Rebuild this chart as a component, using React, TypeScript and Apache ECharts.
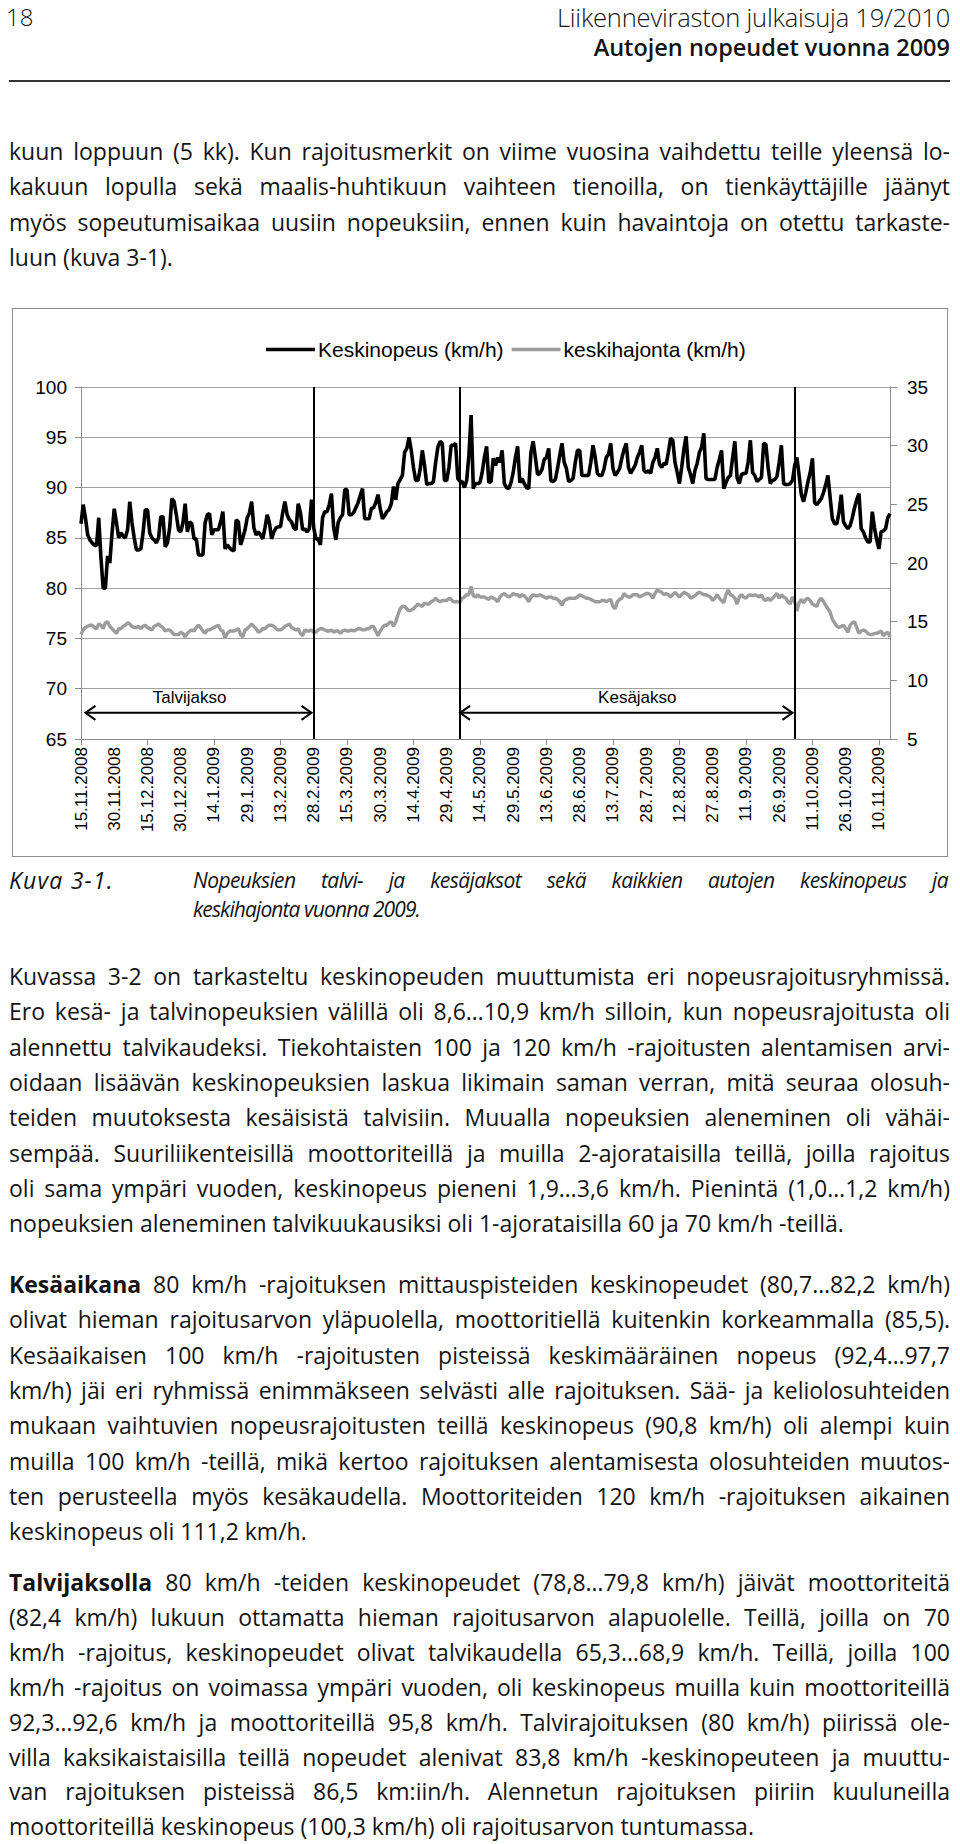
import React, { useEffect, useRef } from "react";
import * as echarts from "echarts";

// ---------- DATA (daily values) ----------
const startYear = 2008;
const startMonth = 11;
const startDay = 15;

const speedNov08 = [86.4, 88.3, 87.0, 85.3, 84.8, 84.5, 84.3, 84.2, 87.0, 83.0, 80.0, 80.0, 83.2, 82.5, 85.5, 87.9];
const speedDec08 = [86.5, 85.0, 85.5, 85.2, 85.0, 85.8, 88.6, 86.5, 85.0, 83.8, 83.8, 83.9, 85.5, 87.8, 87.8, 85.5, 85.0, 84.8, 84.5, 85.0, 87.1, 87.1, 84.1, 84.5, 86.0, 88.9, 88.6, 87.3, 85.8, 85.6, 86.5];
const speedJan09 = [88.4, 85.6, 86.6, 86.4, 84.9, 84.9, 83.3, 83.3, 83.3, 86.5, 87.3, 87.4, 85.3, 85.8, 85.8, 85.8, 86.6, 87.6, 83.9, 84.3, 84.0, 83.8, 83.7, 86.8, 86.6, 84.3, 85.0, 85.8, 87.0, 87.5, 88.6];
const speedFeb09 = [86.0, 85.3, 85.6, 85.3, 84.9, 86.0, 87.3, 86.5, 84.9, 85.6, 86.0, 86.1, 86.1, 87.5, 88.6, 87.3, 86.8, 86.6, 86.0, 85.8, 88.4, 87.5, 85.8, 85.9, 85.6, 85.9, 88.8, 86.0];
const speedMar09 = [84.9, 84.9, 84.3, 87.0, 87.6, 87.6, 88.3, 89.4, 86.0, 84.8, 86.5, 87.0, 87.3, 89.8, 89.8, 87.3, 87.3, 87.5, 88.0, 88.5, 89.2, 89.9, 86.9, 86.9, 86.9, 87.9, 88.0, 88.5, 89.3, 87.9, 86.9];
const speedApr09 = [87.2, 87.6, 87.8, 88.4, 90.1, 88.8, 90.4, 90.8, 91.2, 93.5, 93.9, 95.0, 93.7, 92.0, 90.7, 90.7, 91.8, 93.7, 92.2, 90.3, 90.4, 90.4, 90.6, 92.5, 94.0, 94.6, 94.4, 90.7, 90.7, 92.0];
const speedMay09 = [94.2, 94.2, 94.4, 90.9, 90.6, 90.6, 90.0, 90.7, 93.2, 97.2, 89.9, 90.4, 90.4, 90.5, 91.5, 93.0, 94.1, 90.5, 90.6, 92.9, 92.2, 93.0, 92.5, 93.7, 90.4, 90.0, 89.9, 90.5, 91.5, 93.0, 94.1];
const speedJun09 = [90.5, 90.9, 90.4, 90.0, 89.9, 93.5, 94.6, 93.0, 91.3, 91.4, 91.8, 92.8, 93.0, 93.9, 90.7, 90.6, 90.8, 91.9, 93.2, 94.4, 92.5, 91.9, 90.6, 90.7, 90.9, 92.5, 93.7, 93.7, 91.2, 91.2];
const speedJul09 = [91.2, 91.2, 92.5, 94.2, 93.0, 91.4, 91.2, 91.2, 91.9, 93.0, 93.3, 94.4, 91.9, 91.2, 91.5, 91.9, 92.9, 93.8, 94.4, 92.0, 91.4, 91.8, 92.2, 93.0, 93.5, 94.2, 91.7, 91.5, 91.7, 91.4, 92.5];
const speedAug09 = [93.0, 93.9, 92.3, 92.0, 92.4, 92.3, 93.5, 94.9, 94.7, 92.5, 91.5, 90.4, 92.0, 93.8, 95.1, 92.0, 91.3, 90.4, 91.7, 92.4, 93.5, 94.0, 95.4, 90.9, 90.8, 90.8, 90.8, 90.8, 92.0, 92.8, 93.7];
const speedSep09 = [89.9, 90.5, 91.0, 91.2, 93.0, 94.6, 91.0, 90.4, 91.3, 91.4, 91.4, 92.5, 94.7, 91.5, 91.2, 90.6, 90.8, 91.0, 94.4, 94.3, 92.0, 90.4, 90.7, 90.8, 91.1, 92.5, 94.2, 90.4, 90.3, 90.3];
const speedOct09 = [90.4, 90.7, 92.2, 93.0, 91.2, 89.3, 88.6, 89.5, 90.6, 91.5, 92.9, 88.5, 88.3, 88.6, 88.9, 89.5, 90.3, 91.2, 89.0, 86.9, 86.4, 86.4, 87.5, 89.3, 86.6, 86.2, 85.9, 86.2, 87.0, 88.0, 88.8];
const speedNov09 = [89.4, 85.9, 85.6, 85.0, 84.6, 84.6, 87.6, 86.0, 84.8, 83.9, 85.6, 85.7, 85.9, 87.0, 87.4];

const sdNov08 = [13.9, 14.3, 14.5, 14.6, 14.7, 14.7, 14.5, 14.4, 14.8, 14.7, 14.4, 14.9, 15.0, 14.6, 14.4, 14.2];
const sdDec08 = [14.0, 14.4, 14.4, 14.6, 14.7, 14.9, 14.8, 14.6, 14.5, 14.5, 14.6, 14.4, 14.6, 14.7, 14.5, 14.4, 14.3, 14.6, 14.7, 14.8, 14.6, 14.5, 14.2, 14.3, 14.3, 14.1, 13.9, 13.9, 13.9, 14.1, 14.0];
const sdJan09 = [13.7, 14.0, 14.2, 14.3, 14.2, 14.5, 14.7, 14.5, 14.2, 14.0, 14.3, 14.3, 14.4, 14.5, 14.6, 14.7, 14.3, 14.2, 13.6, 14.0, 14.2, 14.2, 14.2, 14.3, 14.4, 13.9, 13.7, 14.3, 14.4, 14.6, 14.8];
const sdFeb09 = [14.6, 14.4, 14.1, 14.2, 14.4, 14.4, 14.6, 14.7, 14.7, 14.6, 14.4, 14.3, 14.3, 14.4, 14.6, 14.7, 14.8, 14.5, 14.4, 14.3, 14.4, 14.0, 13.8, 14.3, 14.2, 14.2, 14.3, 14.1];
const sdMar09 = [14.1, 14.3, 14.4, 14.4, 14.3, 14.2, 14.2, 14.3, 14.1, 14.2, 14.2, 14.0, 14.2, 14.3, 14.2, 14.2, 14.3, 14.2, 14.3, 14.4, 14.4, 14.3, 14.3, 14.4, 14.4, 14.6, 14.6, 14.2, 13.8, 14.2, 14.5];
const sdApr09 = [14.7, 14.7, 14.9, 15.0, 14.6, 15.0, 15.6, 16.1, 16.3, 16.3, 16.1, 15.9, 16.0, 16.1, 16.3, 16.5, 16.4, 16.3, 16.6, 16.5, 16.5, 16.7, 16.8, 17.0, 16.8, 16.7, 16.8, 16.8, 16.8, 17.0];
const sdMay09 = [16.9, 16.7, 16.7, 16.7, 16.7, 17.0, 17.1, 17.3, 17.3, 18.0, 17.2, 17.1, 17.3, 17.1, 17.1, 17.1, 17.0, 16.9, 17.1, 17.0, 16.9, 16.7, 17.1, 17.3, 17.4, 17.2, 17.1, 17.2, 17.4, 17.3, 17.3];
const sdJun09 = [17.1, 17.3, 17.2, 17.0, 16.7, 17.1, 17.3, 17.2, 17.2, 17.3, 17.2, 17.1, 17.0, 17.1, 17.1, 17.0, 17.0, 16.9, 16.7, 16.4, 16.8, 16.9, 17.0, 17.0, 17.0, 17.0, 17.1, 17.3, 17.2, 17.1];
const sdJul09 = [17.0, 17.0, 16.9, 16.8, 16.7, 16.7, 16.7, 16.8, 16.8, 16.7, 16.8, 16.9, 16.3, 16.1, 16.7, 16.9, 17.0, 17.4, 17.2, 17.1, 17.1, 17.3, 17.3, 17.3, 17.1, 17.2, 17.3, 17.4, 17.4, 17.3, 17.0];
const sdAug09 = [17.4, 17.7, 17.6, 17.5, 17.3, 17.4, 17.3, 17.1, 17.3, 17.5, 17.3, 17.1, 17.3, 17.5, 17.4, 17.3, 17.0, 17.1, 17.2, 17.4, 17.5, 17.4, 17.3, 17.3, 17.2, 17.1, 16.8, 17.0, 17.3, 17.0, 16.8];
const sdSep09 = [16.6, 17.3, 17.7, 17.3, 17.2, 17.0, 16.5, 17.1, 17.3, 17.1, 17.0, 17.2, 17.3, 17.2, 17.3, 17.2, 17.1, 17.3, 16.9, 16.8, 17.0, 16.8, 17.0, 17.2, 17.4, 17.0, 17.3, 17.1, 17.0, 16.7];
const sdOct09 = [16.5, 17.1, 16.7, 15.9, 16.6, 16.9, 16.6, 16.9, 17.0, 16.8, 16.5, 16.4, 16.3, 16.8, 17.0, 16.7, 16.4, 16.1, 15.8, 15.2, 14.9, 14.6, 14.5, 14.6, 14.7, 14.4, 14.1, 14.7, 14.9, 15.0, 14.5];
const sdNov09 = [14.0, 14.2, 14.3, 14.2, 14.0, 13.9, 13.9, 14.0, 14.0, 14.1, 14.2, 13.8, 14.0, 14.1, 13.7];

const seriesNames = ["Keskinopeus (km/h)", "keskihajonta (km/h)"];
// period dividers (day index from 15.11.2008)
const dividerDays = [105, 171, 322];
// period arrows
const periodLabels = ["Talvijakso", "Kesäjakso"];
const periodStart = [2, 171];
const periodEnd = [104, 321];
const periodLabelDay = [49, 251];
const arrowLevel = 67.6;
const labelLevel = 69.1;

const speed = [
  ...speedNov08, ...speedDec08, ...speedJan09, ...speedFeb09, ...speedMar09, ...speedApr09,
  ...speedMay09, ...speedJun09, ...speedJul09, ...speedAug09, ...speedSep09, ...speedOct09, ...speedNov09,
];
const sd = [
  ...sdNov08, ...sdDec08, ...sdJan09, ...sdFeb09, ...sdMar09, ...sdApr09,
  ...sdMay09, ...sdJun09, ...sdJul09, ...sdAug09, ...sdSep09, ...sdOct09, ...sdNov09,
];
const categories = speed.map((_, i) => {
  const d = new Date(Date.UTC(startYear, startMonth - 1, startDay + i));
  return `${d.getUTCDate()}.${d.getUTCMonth() + 1}.${d.getUTCFullYear()}`;
});

// ---------- PAGE TEXT ----------
const para1 = [
  "kuun loppuun (5 kk). Kun rajoitusmerkit on viime vuosina vaihdettu teille yleensä lo-",
  "kakuun lopulla sekä maalis-huhtikuun vaihteen tienoilla, on tienkäyttäjille jäänyt",
  "myös sopeutumisaikaa uusiin nopeuksiin, ennen kuin havaintoja on otettu tarkaste-",
  "luun (kuva 3-1).",
];
const para2 = [
  "Kuvassa 3-2 on tarkasteltu keskinopeuden muuttumista eri nopeusrajoitusryhmissä.",
  "Ero kesä- ja talvinopeuksien välillä oli 8,6…10,9 km/h silloin, kun nopeusrajoitusta oli",
  "alennettu talvikaudeksi. Tiekohtaisten 100 ja 120 km/h -rajoitusten alentamisen arvi-",
  "oidaan lisäävän keskinopeuksien laskua likimain saman verran, mitä seuraa olosuh-",
  "teiden muutoksesta kesäisistä talvisiin. Muualla nopeuksien aleneminen oli vähäi-",
  "sempää. Suuriliikenteisillä moottoriteillä ja muilla 2-ajorataisilla teillä, joilla rajoitus",
  "oli sama ympäri vuoden, keskinopeus pieneni 1,9…3,6 km/h. Pienintä (1,0…1,2 km/h)",
  "nopeuksien aleneminen talvikuukausiksi oli 1-ajorataisilla 60 ja 70 km/h -teillä.",
];
const para3 = [
  "**Kesäaikana** 80 km/h -rajoituksen mittauspisteiden keskinopeudet (80,7…82,2 km/h)",
  "olivat hieman rajoitusarvon yläpuolella, moottoritiellä kuitenkin korkeammalla (85,5).",
  "Kesäaikaisen 100 km/h -rajoitusten pisteissä keskimääräinen nopeus (92,4…97,7",
  "km/h) jäi eri ryhmissä enimmäkseen selvästi alle rajoituksen. Sää- ja keliolosuhteiden",
  "mukaan vaihtuvien nopeusrajoitusten teillä keskinopeus (90,8 km/h) oli alempi kuin",
  "muilla 100 km/h -teillä, mikä kertoo rajoituksen alentamisesta olosuhteiden muutos-",
  "ten perusteella myös kesäkaudella. Moottoriteiden 120 km/h -rajoituksen aikainen",
  "keskinopeus oli 111,2 km/h.",
];
const para4 = [
  "**Talvijaksolla** 80 km/h -teiden keskinopeudet (78,8…79,8 km/h) jäivät moottoriteitä",
  "(82,4 km/h) lukuun ottamatta hieman rajoitusarvon alapuolelle. Teillä, joilla on 70",
  "km/h -rajoitus, keskinopeudet olivat talvikaudella 65,3…68,9 km/h. Teillä, joilla 100",
  "km/h -rajoitus on voimassa ympäri vuoden, oli keskinopeus muilla kuin moottoriteillä",
  "92,3…92,6 km/h ja moottoriteillä 95,8 km/h. Talvirajoituksen (80 km/h) piirissä ole-",
  "villa kaksikaistaisilla teillä nopeudet alenivat 83,8 km/h -keskinopeuteen ja muuttu-",
  "van rajoituksen pisteissä 86,5 km:iin/h. Alennetun rajoituksen piiriin kuuluneilla",
  "moottoriteillä keskinopeus (100,3 km/h) oli rajoitusarvon tuntumassa.",
];

const BODY_FONT = "'Open Sans', 'Noto Sans', sans-serif";
const CHART_FONT = "'Liberation Sans', Arial, sans-serif";
const FS = 23;
const LH = 35.3;
const BOX = 26;
const TEXT_LEFT = 9;
const TEXT_W = 941;

function renderRich(s: string) {
  const parts = s.split("**");
  return parts.map((p, k) =>
    k % 2 === 1 ? <b key={k} style={{ fontWeight: 700 }}>{p}</b> : <span key={k}>{p}</span>
  );
}

function Para({ lines, top, lh = LH }: { lines: string[]; top: number; lh?: number }) {
  return (
    <>
      {lines.map((l, k) => {
        const last = k === lines.length - 1;
        return (
          <div
            key={k}
            style={{
              position: "absolute",
              left: TEXT_LEFT,
              width: TEXT_W,
              top: top + k * lh - BOX / 2,
              height: BOX,
              lineHeight: BOX + "px",
              fontSize: FS,
              textAlign: last ? "left" : "justify",
              textAlignLast: last ? "left" : "justify",
            } as React.CSSProperties}
          >
            {renderRich(l)}
          </div>
        );
      })}
    </>
  );
}

function Chart() {
  const ref = useRef<HTMLDivElement>(null);
  useEffect(() => {
    if (!ref.current) return;
    const chart = echarts.init(ref.current, undefined, { renderer: "svg" });
    const arrowData = periodLabels.map((_, k) => [
      periodStart[k], periodEnd[k], arrowLevel, periodLabelDay[k], labelLevel,
    ]);
    const option: any = {
      animation: false,
      textStyle: { fontFamily: CHART_FONT },
      legend: {
        left: 249,
        top: 26,
        icon: "rect",
        itemWidth: 49,
        itemHeight: 3.5,
        itemGap: 8,
        data: seriesNames,
        textStyle: { fontSize: 21, color: "#000", fontFamily: CHART_FONT, padding: [0, 0, 0, -2] },
      },
      grid: { left: 69, top: 79, width: 809, height: 352, containLabel: false },
      xAxis: {
        type: "category",
        data: categories,
        boundaryGap: false,
        axisLine: { show: true, lineStyle: { color: "#8c8c8c", width: 1 } },
        axisTick: { show: true, interval: 29, length: 6, lineStyle: { color: "#8c8c8c" } },
        axisLabel: { interval: 14, rotate: 90, fontSize: 17, color: "#000", margin: 8, fontFamily: CHART_FONT },
        splitLine: { show: false },
      },
      yAxis: [
        {
          type: "value", min: 65, max: 100, interval: 5, position: "left",
          axisLine: { show: true, lineStyle: { color: "#8c8c8c" } },
          axisTick: { show: true, length: 6, lineStyle: { color: "#8c8c8c" } },
          axisLabel: { fontSize: 19, color: "#000", margin: 14, fontFamily: CHART_FONT },
          splitLine: { show: true, lineStyle: { color: "#a0a0a0", width: 1 } },
        },
        {
          type: "value", min: 5, max: 35, interval: 5, position: "right",
          axisLine: { show: true, lineStyle: { color: "#8c8c8c" } },
          axisTick: { show: true, length: 7, lineStyle: { color: "#8c8c8c" } },
          axisLabel: { fontSize: 19, color: "#000", margin: 17, fontFamily: CHART_FONT },
          splitLine: { show: false },
        },
      ],
      series: [
        {
          name: seriesNames[0], type: "line", data: speed, yAxisIndex: 0,
          symbol: "none", lineStyle: { color: "#000", width: 3.6 }, itemStyle: { color: "#000" },
          z: 3,
          markLine: {
            silent: true, symbol: "none", label: { show: false },
            lineStyle: { color: "#000", width: 2, type: "solid" },
            data: dividerDays.map((d) => ({ xAxis: categories[d] })),
          },
        },
        {
          name: seriesNames[1], type: "line", data: sd, yAxisIndex: 1,
          symbol: "none", lineStyle: { color: "#9c9c9c", width: 3.4 }, itemStyle: { color: "#9c9c9c" },
          z: 2,
        },
        {
          type: "custom", yAxisIndex: 0, silent: true, z: 4,
          data: arrowData,
          encode: { x: [0, 1, 3], y: [2, 4] },
          renderItem: (params: any, api: any) => {
            const p0 = api.coord([api.value(0), api.value(2)]);
            const p1 = api.coord([api.value(1), api.value(2)]);
            const t = api.coord([api.value(3), api.value(4)]);
            const dx = 10, dy = 7;
            const st = { stroke: "#000", lineWidth: 2, fill: null };
            return {
              type: "group",
              children: [
                { type: "line", shape: { x1: p0[0], y1: p0[1], x2: p1[0], y2: p1[1] }, style: st },
                { type: "polyline", shape: { points: [[p0[0] + dx, p0[1] - dy], [p0[0], p0[1]], [p0[0] + dx, p0[1] + dy]] }, style: st },
                { type: "polyline", shape: { points: [[p1[0] - dx, p1[1] - dy], [p1[0], p1[1]], [p1[0] - dx, p1[1] + dy]] }, style: st },
                {
                  type: "text",
                  style: {
                    text: periodLabels[params.dataIndex], x: t[0], y: t[1],
                    align: "center", verticalAlign: "middle",
                    font: `17px ${CHART_FONT}`, fill: "#000",
                  },
                },
              ],
            };
          },
        },
      ],
    };
    chart.setOption(option);
    return () => chart.dispose();
  }, []);
  return <div ref={ref} style={{ position: "absolute", left: 12, top: 308, width: 936, height: 549 }} />;
}

export default function App() {
  const capStyle: React.CSSProperties = {
    position: "absolute", height: BOX, lineHeight: BOX + "px", fontSize: 21,
    fontStyle: "italic", letterSpacing: "-0.6px",
  };
  return (
    <div
      style={{
        position: "absolute", left: 0, top: 0, width: 960, height: 1844,
        background: "#fff", color: "#141414", fontFamily: BODY_FONT, overflow: "hidden",
      }}
    >
      <div style={{ position: "absolute", left: 6, top: 0, fontSize: 24, fontWeight: 300, lineHeight: "normal" }}>18</div>
      <div style={{ position: "absolute", right: 10, top: 0, fontSize: 25.5, fontWeight: 300, lineHeight: "normal", letterSpacing: "-0.2px" }}>
        Liikenneviraston julkaisuja 19/2010
      </div>
      <div style={{ position: "absolute", right: 10, top: 31, fontSize: 23.5, fontWeight: 600, lineHeight: "normal" }}>
        Autojen nopeudet vuonna 2009
      </div>
      <div style={{ position: "absolute", left: 9, top: 80, width: 941, height: 2, background: "#333" }} />

      <Para lines={para1} top={151} />

      <div style={{ position: "absolute", left: 12, top: 308, width: 936, height: 549, border: "1px solid #8c8c8c", boxSizing: "border-box" }} />
      <Chart />

      <div style={{ ...capStyle, left: 9, top: 880 - BOX / 2, fontSize: 23, letterSpacing: "1.2px" }}>Kuva 3-1.</div>
      <div style={{ ...capStyle, left: 193, width: 755, top: 880 - BOX / 2, textAlign: "justify", textAlignLast: "justify" } as React.CSSProperties}>
        Nopeuksien talvi- ja kesäjaksot sekä kaikkien autojen keskinopeus ja
      </div>
      <div style={{ ...capStyle, left: 193, top: 909 - BOX / 2, letterSpacing: "-0.9px" }}>
        keskihajonta vuonna 2009.
      </div>

      <Para lines={para2} top={976} />
      <Para lines={para3} top={1284} />
      <Para lines={para4} top={1582} lh={34.9} />
    </div>
  );
}
